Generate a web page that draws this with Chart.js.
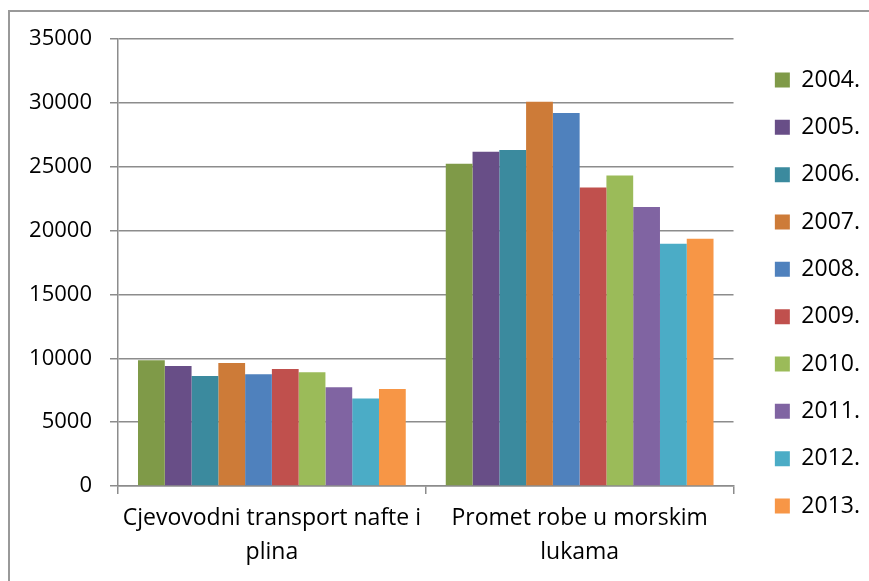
<!DOCTYPE html>
<html>
<head>
<meta charset="utf-8">
<script src="https://cdn.jsdelivr.net/npm/chart.js@4"></script>
<style>
  body { margin: 0; background: #fff; overflow: hidden; }
  #frame { position: absolute; left: 8px; top: 10px; width: 2000px; height: 2000px;
           border-left: 2px solid #999; border-top: 2px solid #999; }
  #graf { position: absolute; left: 0; top: 0; z-index: 1; }
</style>
</head>
<body>
<div id="frame"></div>
<canvas id="graf" width="869" height="581"></canvas>
<script>
// categories (two-line labels)
const categories = [['Cjevovodni transport nafte i', 'plina'], ['Promet robe u morskim', 'lukama']];
const years = ['2004.', '2005.', '2006.', '2007.', '2008.', '2009.', '2010.', '2011.', '2012.', '2013.'];

// values
const cjevovodni = [9850, 9400, 8620, 9640, 8750, 9170, 8910, 7740, 6850, 7600];
const lukeRoba = [25230, 26180, 26300, 30080, 29200, 23380, 24320, 21850, 18960, 19350];

const colors = ['#7F9A48', '#684E87', '#3B8A9E', '#CD7B38', '#4F81BD',
                '#C0504D', '#9BBB59', '#8064A2', '#4BACC6', '#F79646'];

const yTicks = [0, 5000, 10000, 15000, 20000, 25000, 30000, 35000];

const gridColor = '#8c8c8c';

// moves the legend a bit to the right and re-centres it on the full height
const legendShift = {
  id: 'legendShift',
  afterLayout(chart) {
    const l = chart.legend;
    l.left += 17;
    l.right += 17;
    l.top = 5;
    l.bottom = chart.height;
  }
};

const datasets = years.map((y, i) => ({
  label: y,
  data: [cjevovodni[i], lukeRoba[i]],
  backgroundColor: colors[i],
  borderWidth: 0,
  categoryPercentage: 0.87,
  barPercentage: 1
}));

const config = {
  type: 'bar',
  data: { labels: categories, datasets: datasets },
  options: {
    responsive: false,
    animation: false,
    layout: { padding: { top: 39, left: 0, right: 16, bottom: 0 } },
    plugins: {
      legend: {
        position: 'right',
        labels: {
          boxWidth: 15,
          boxHeight: 15,
          padding: 24.33,
          color: '#000',
          font: { family: 'Open Sans', size: 23 }
        }
      },
      tooltip: { enabled: false }
    },
    scales: {
      x: {
        grid: { drawOnChartArea: false, drawTicks: true, tickLength: 8, color: gridColor, lineWidth: 1.5 },
        border: { color: gridColor, width: 1.5 },
        ticks: { color: '#000', padding: 8, maxRotation: 0, font: { family: 'Open Sans', size: 23, lineHeight: 1.45 } },
        afterFit: (s) => { s.height = 95; }
      },
      y: {
        min: 0,
        max: 35000,
        afterBuildTicks: (s) => { s.ticks = yTicks.map(v => ({ value: v })); },
        grid: { color: gridColor, lineWidth: 1.5, tickLength: 8 },
        border: { color: gridColor, width: 1.5 },
        ticks: {
          color: '#000',
          padding: 18,
          font: { family: 'Open Sans', size: 22 },
          callback: (v) => String(v)
        },
        afterFit: (s) => { s.width = 118; }
      }
    }
  },
  plugins: [legendShift]
};

new Chart(document.getElementById('graf').getContext('2d'), config);
</script>
</body>
</html>
